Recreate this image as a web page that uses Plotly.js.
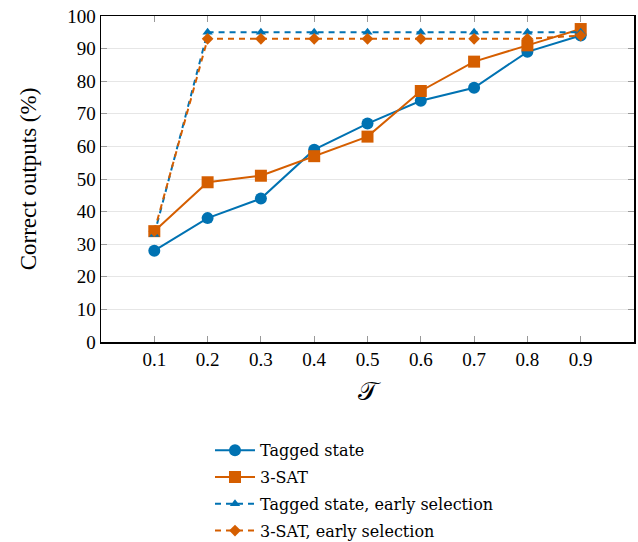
<!DOCTYPE html>
<html><head><meta charset="utf-8">
<script src="https://cdn.plot.ly/plotly-3.0.1.min.js"></script>
<style>body{margin:0;background:#fff}#chart{width:638px;height:542px}</style>
</head><body><div id="chart"></div>
<script>
const tau = [0.1, 0.2, 0.3, 0.4, 0.5, 0.6, 0.7, 0.8, 0.9];
const taggedState = [28, 38, 44, 59, 67, 74, 78, 89, 94];
const sat3 = [34, 49, 51, 57, 63, 77, 86, 91, 96];
const taggedEarly = [33, 95, 95, 95, 95, 95, 95, 95, 95];
const sat3Early = [34, 93, 93, 93, 93, 93, 93, 93, 94];
const tickLabels = ['0.1','0.2','0.3','0.4','0.5','0.6','0.7','0.8','0.9'];
const blue = '#0072B2', orange = '#D55E00';
const serif = "Liberation Serif, serif";
const legendSerif = "DejaVu Serif, serif";
const traces = [
  {x: tau, y: taggedState, name: 'Tagged state', mode: 'lines+markers', legendgroup: 'a',
   line: {color: blue, width: 2}, marker: {symbol: 'circle', size: 12, color: blue}},
  {x: tau, y: sat3, name: '3-SAT', mode: 'lines+markers', legendgroup: 'b',
   line: {color: orange, width: 2}, marker: {symbol: 'square', size: 12, color: orange}},
  {x: tau, y: taggedEarly, name: 'Tagged state, early selection', mode: 'lines+markers', legendgroup: 'c',
   line: {color: blue, width: 2, dash: '6px,5px'}, marker: {symbol: 'triangle-up', size: 9, color: blue}},
  {x: tau, y: sat3Early, name: '3-SAT, early selection', mode: 'lines+markers', legendgroup: 'd',
   line: {color: orange, width: 2, dash: '6px,5px'}, marker: {symbol: 'diamond', size: 9, color: orange}}
];
const layout = {
  width: 638, height: 542,
  margin: {l: 101, r: 4, t: 16, b: 200, autoexpand: false},
  paper_bgcolor: '#fff', plot_bgcolor: '#fff',
  font: {family: serif, color: '#000', size: 18},
  showlegend: true,
  legend: {x: 0.2045, xanchor: 'left', y: -0.28, yanchor: 'top', orientation: 'v',
           font: {family: legendSerif, size: 16}, itemwidth: 40, tracegroupgap: 3, bgcolor: 'rgba(0,0,0,0)'},
  xaxis: {range: [0, 1.0], tickvals: tau, ticktext: tickLabels, ticks: 'inside', ticklen: 6,
          tickcolor: '#999', showgrid: false, zeroline: false, showline: true, linecolor: '#000',
          linewidth: 1.5, mirror: 'ticks', tickfont: {family: serif, size: 19},
          title: {text: '𝒯', font: {family: serif, size: 26}, standoff: 12}},
  yaxis: {range: [0, 100], tickvals: [0,10,20,30,40,50,60,70,80,90,100], ticks: 'inside', ticklen: 6,
          tickcolor: '#999', showgrid: true, gridcolor: '#e6e6e6', zeroline: false, showline: true,
          linecolor: '#000', linewidth: 1.5, mirror: 'ticks', tickfont: {family: serif, size: 19},
          title: {text: 'Correct outputs (%)', font: {family: serif, size: 23}, standoff: 24}}
};
Plotly.newPlot('chart', traces, layout, {displayModeBar: false, staticPlot: true});
</script></body></html>
